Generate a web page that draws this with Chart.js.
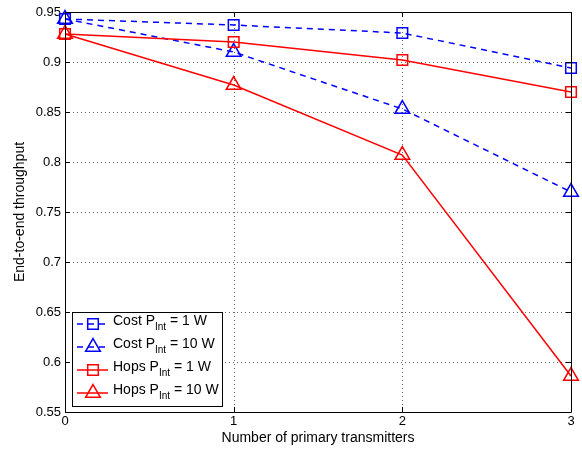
<!DOCTYPE html>
<html>
<head>
<meta charset="utf-8">
<script src="https://cdn.jsdelivr.net/npm/chart.js@4"></script>
<style>
  html, body { margin: 0; padding: 0; background: #fff; }
  #wrap { width: 582px; height: 451px; }
</style>
</head>
<body>
<div id="wrap"><canvas id="plot"></canvas></div>
<script>
// data
const transmitters = [0, 1, 2, 3];
const costP1 = [0.943, 0.937, 0.929, 0.894];
const costP10 = [0.943, 0.910, 0.853, 0.770];
const hopsP1 = [0.928, 0.920, 0.902, 0.870];
const hopsP10 = [0.928, 0.877, 0.807, 0.586];
const seriesNames = ["Cost", "Cost", "Hops", "Hops"];
const seriesPower = ["1 W", "10 W", "1 W", "10 W"];
const yTicks = [0.55, 0.6, 0.65, 0.7, 0.75, 0.8, 0.85, 0.9, 0.95];

const FONT = "'Liberation Sans', Arial, sans-serif";

function pts(vals) {
  return transmitters.map((x, i) => ({ x: x, y: vals[i] }));
}

function makeSet(vals, i, color, dashed, shape, radius) {
  return {
    label: seriesNames[i] + " P_Int = " + seriesPower[i],
    data: pts(vals),
    borderColor: color,
    backgroundColor: "transparent",
    borderWidth: 1.5,
    borderDash: dashed ? [6, 5] : [],
    pointStyle: shape,
    pointRadius: radius,
    pointBorderColor: color,
    pointBackgroundColor: "transparent",
    pointBorderWidth: 1.5,
    pointHoverRadius: radius,
    tension: 0,
    clip: false,
    order: 3 - i
  };
}

const datasets = [
  makeSet(costP1, 0, "#0000ff", true, "rect", 7.5),
  makeSet(costP10, 1, "#0000ff", true, "triangle", 8.5),
  makeSet(hopsP1, 2, "#ff0000", false, "rect", 7.5),
  makeSet(hopsP10, 3, "#ff0000", false, "triangle", 8.5)
];

// dotted grid under the lines
const gridPlugin = {
  id: "dotGrid",
  beforeDatasetsDraw(chart) {
    const ctx = chart.ctx;
    const a = chart.chartArea;
    const xs = chart.scales.x, ys = chart.scales.y;
    ctx.save();
    ctx.strokeStyle = "#666";
    ctx.lineWidth = 1;
    ctx.setLineDash([1, 3]);
    ctx.beginPath();
    transmitters.forEach(v => {
      const px = Math.round(xs.getPixelForValue(v)) + 0.5;
      ctx.moveTo(px, a.top); ctx.lineTo(px, a.bottom);
    });
    yTicks.forEach(v => {
      const py = Math.round(ys.getPixelForValue(v)) + 0.5;
      ctx.moveTo(a.left, py); ctx.lineTo(a.right, py);
    });
    ctx.stroke();
    ctx.restore();
  }
};

// box and inward ticks like the original figure
const boxPlugin = {
  id: "box",
  afterDraw(chart) {
    const ctx = chart.ctx;
    const a = chart.chartArea;
    const xs = chart.scales.x, ys = chart.scales.y;
    ctx.save();
    ctx.strokeStyle = "#000";
    ctx.lineWidth = 1;
    ctx.beginPath();
    ctx.rect(Math.round(a.left) + 0.5, Math.round(a.top) + 0.5,
      Math.round(a.right - a.left), Math.round(a.bottom - a.top));
    ctx.stroke();
    ctx.beginPath();
    transmitters.forEach(v => {
      const px = Math.round(xs.getPixelForValue(v)) + 0.5;
      ctx.moveTo(px, a.bottom); ctx.lineTo(px, a.bottom - 5);
      ctx.moveTo(px, a.top); ctx.lineTo(px, a.top + 5);
    });
    yTicks.forEach(v => {
      const py = Math.round(ys.getPixelForValue(v)) + 0.5;
      ctx.moveTo(a.left, py); ctx.lineTo(a.left + 5, py);
      ctx.moveTo(a.right, py); ctx.lineTo(a.right - 5, py);
    });
    ctx.stroke();
    ctx.restore();
  }
};

// legend with subscripts, drawn by hand
const legendPlugin = {
  id: "subLegend",
  afterDraw(chart) {
    const ctx = chart.ctx;
    const a = chart.chartArea;
    const x0 = a.left + 7, y0 = a.bottom - 100, w = 150, h = 94;
    ctx.save();
    ctx.fillStyle = "#fff";
    ctx.fillRect(x0, y0, w, h);
    ctx.strokeStyle = "#000";
    ctx.lineWidth = 1;
    ctx.strokeRect(Math.round(x0) + 0.5, Math.round(y0) + 0.5, w, h);
    chart.data.datasets.forEach((ds, i) => {
      const cy = y0 + 12 + i * 23;
      ctx.strokeStyle = ds.borderColor;
      ctx.lineWidth = 1.5;
      ctx.setLineDash(ds.borderDash);
      ctx.beginPath();
      ctx.moveTo(x0 + 5, cy);
      ctx.lineTo(x0 + 36, cy);
      ctx.stroke();
      ctx.setLineDash([]);
      ctx.fillStyle = "rgba(0,0,0,0)";
      Chart.helpers.drawPoint(ctx, {
        pointStyle: ds.pointStyle,
        radius: ds.pointRadius,
        borderWidth: 1.5,
        rotation: 0
      }, x0 + 21, cy);
      ctx.fillStyle = "#000";
      ctx.textBaseline = "alphabetic";
      ctx.textAlign = "left";
      let tx = x0 + 41;
      const base = cy + 1;
      const t1 = seriesNames[i] + " P";
      ctx.font = "14px " + FONT;
      ctx.fillText(t1, tx, base);
      tx += ctx.measureText(t1).width;
      ctx.font = "10px " + FONT;
      ctx.fillText("Int", tx, base + 5);
      tx += ctx.measureText("Int").width;
      ctx.font = "14px " + FONT;
      ctx.fillText(" = " + seriesPower[i], tx, base);
    });
    ctx.restore();
  }
};

new Chart(document.getElementById("plot"), {
  type: "line",
  data: { datasets: datasets },
  options: {
    responsive: true,
    maintainAspectRatio: false,
    animation: false,
    events: [],
    layout: { padding: { top: 12, right: 11, left: 0, bottom: 0 } },
    plugins: { legend: { display: false }, tooltip: { enabled: false } },
    scales: {
      x: {
        type: "linear",
        min: 0,
        max: 3,
        afterFit(s) { s.height = 39; },
        afterBuildTicks(s) { s.ticks = transmitters.map(v => ({ value: v })); },
        ticks: {
          color: "#000",
          font: { family: FONT, size: 13 },
          padding: 2,
          callback: v => String(v)
        },
        grid: { display: false, drawTicks: false, tickLength: 0 },
        border: { display: false },
        title: {
          display: true,
          text: "Number of primary transmitters",
          color: "#000",
          font: { family: FONT, size: 14 },
          padding: { top: 0, bottom: 4 }
        }
      },
      y: {
        type: "linear",
        min: 0.55,
        max: 0.95,
        afterFit(s) { s.width = 65; },
        afterBuildTicks(s) { s.ticks = yTicks.map(v => ({ value: v })); },
        ticks: {
          color: "#000",
          font: { family: FONT, size: 13 },
          padding: 4,
          callback: v => String(Number(v.toFixed(2)))
        },
        grid: { display: false, drawTicks: false, tickLength: 0 },
        border: { display: false },
        title: {
          display: true,
          text: "End-to-end throughput",
          color: "#000",
          font: { family: FONT, size: 14 },
          padding: { top: 12, bottom: 0 }
        }
      }
    }
  },
  plugins: [gridPlugin, boxPlugin, legendPlugin]
});
</script>
</body>
</html>
